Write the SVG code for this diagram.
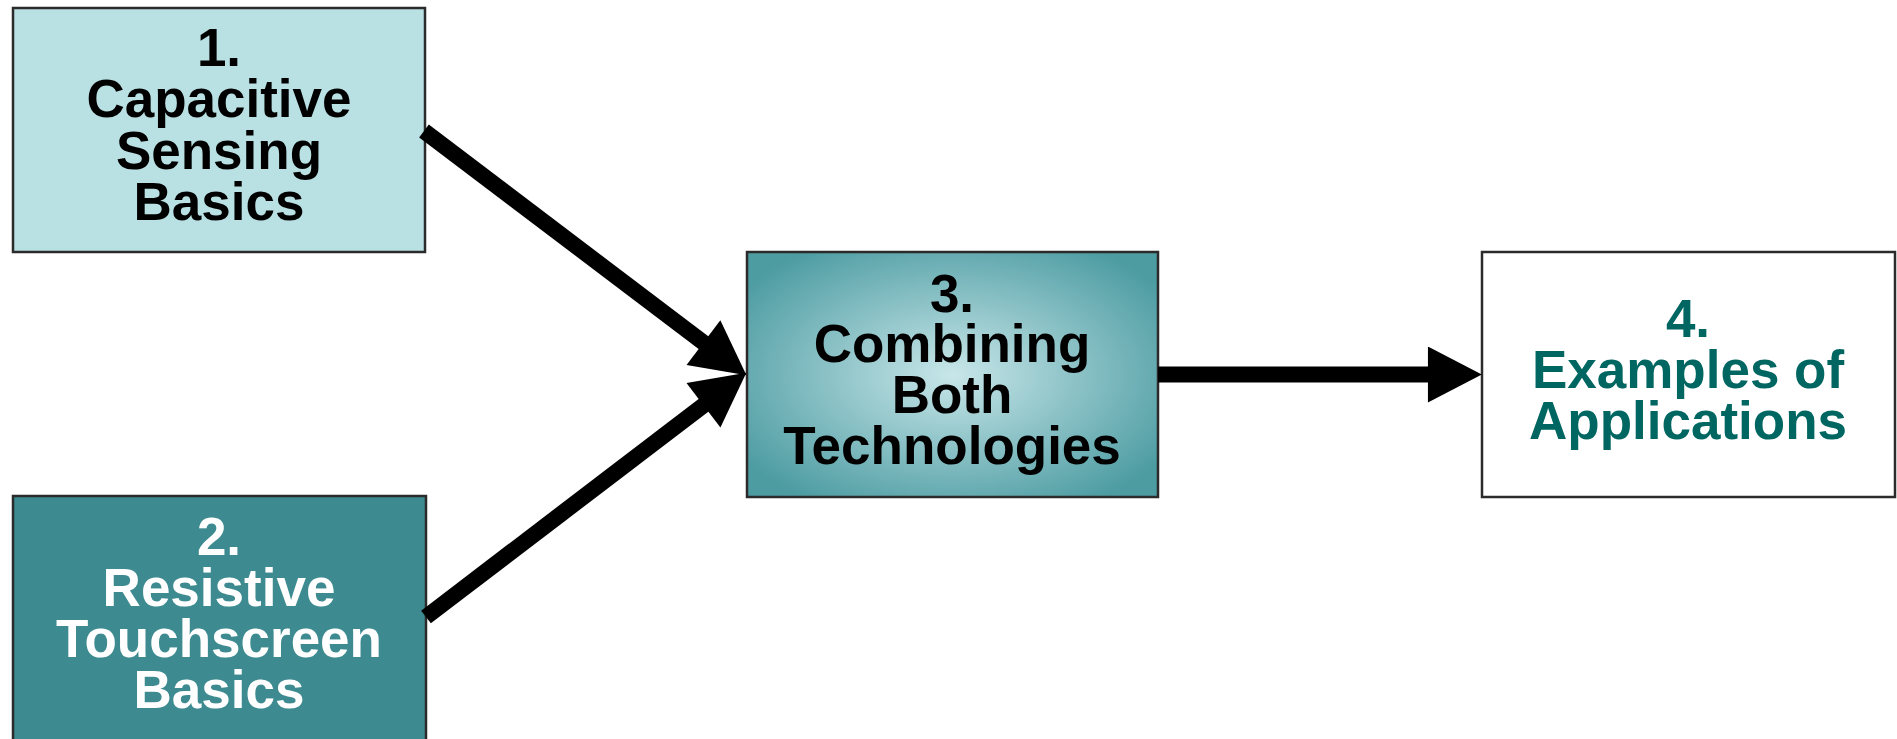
<svg xmlns="http://www.w3.org/2000/svg" width="1897" height="739" viewBox="0 0 1897 739">
  <style>
    .box { stroke: #2b2b2b; stroke-width: 2.5; }
    .label { font-family: "Liberation Sans", Arial, sans-serif; font-weight: bold; font-size: 53px; text-anchor: middle; }
    .dark { fill: #000000; }
    .light { fill: #ffffff; }
    .teal { fill: #006661; }
    .shaft { stroke: #000000; stroke-width: 16; fill: none; stroke-linecap: butt; }
  </style>
  <defs>
    <radialGradient id="combineFill" cx="50%" cy="50%" r="62%">
      <stop offset="0" stop-color="#c8e6e9"/>
      <stop offset="1" stop-color="#4c9ca2"/>
    </radialGradient>
    <marker id="head" markerUnits="userSpaceOnUse" markerWidth="56" markerHeight="56" viewBox="0 0 52 54" refX="2" refY="27" orient="auto">
      <path d="M0,0 L52,27 L0,54 Z" fill="#000000"/>
    </marker>
  </defs>

  <rect width="1897" height="739" fill="#ffffff"/>

  <g id="node-capacitive">
    <rect class="box" x="13" y="8" width="412" height="244" fill="#b9e0e3"/>
    <text class="label dark" x="219" y="66">1.</text>
    <text class="label dark" x="219" y="117">Capacitive</text>
    <text class="label dark" x="219" y="169">Sensing</text>
    <text class="label dark" x="219" y="220">Basics</text>
  </g>

  <g id="node-resistive">
    <rect class="box" x="13" y="496" width="413" height="260" fill="#3d8b90"/>
    <text class="label light" x="219" y="555">2.</text>
    <text class="label light" x="219" y="606">Resistive</text>
    <text class="label light" x="219" y="657">Touchscreen</text>
    <text class="label light" x="219" y="708">Basics</text>
  </g>

  <g id="node-combining">
    <rect class="box" x="747" y="252" width="411" height="245" fill="url(#combineFill)" stroke="#4a4a4a"/>
    <text class="label dark" x="952" y="312">3.</text>
    <text class="label dark" x="952" y="362">Combining</text>
    <text class="label dark" x="952" y="413">Both</text>
    <text class="label dark" x="952" y="464">Technologies</text>
  </g>

  <g id="node-examples">
    <rect class="box" x="1482" y="252" width="413" height="245" fill="#ffffff"/>
    <text class="label teal" x="1688" y="337">4.</text>
    <text class="label teal" x="1688" y="388">Examples of</text>
    <text class="label teal" x="1688" y="439">Applications</text>
  </g>

  <g id="connectors">
    <line class="shaft" x1="424" y1="131" x2="705.1" y2="343.9" marker-end="url(#head)"/>
    <line class="shaft" x1="426" y1="617" x2="705.1" y2="404.1" marker-end="url(#head)"/>
    <line class="shaft" x1="1158" y1="374.5" x2="1430" y2="374.5" marker-end="url(#head)"/>
  </g>
</svg>
